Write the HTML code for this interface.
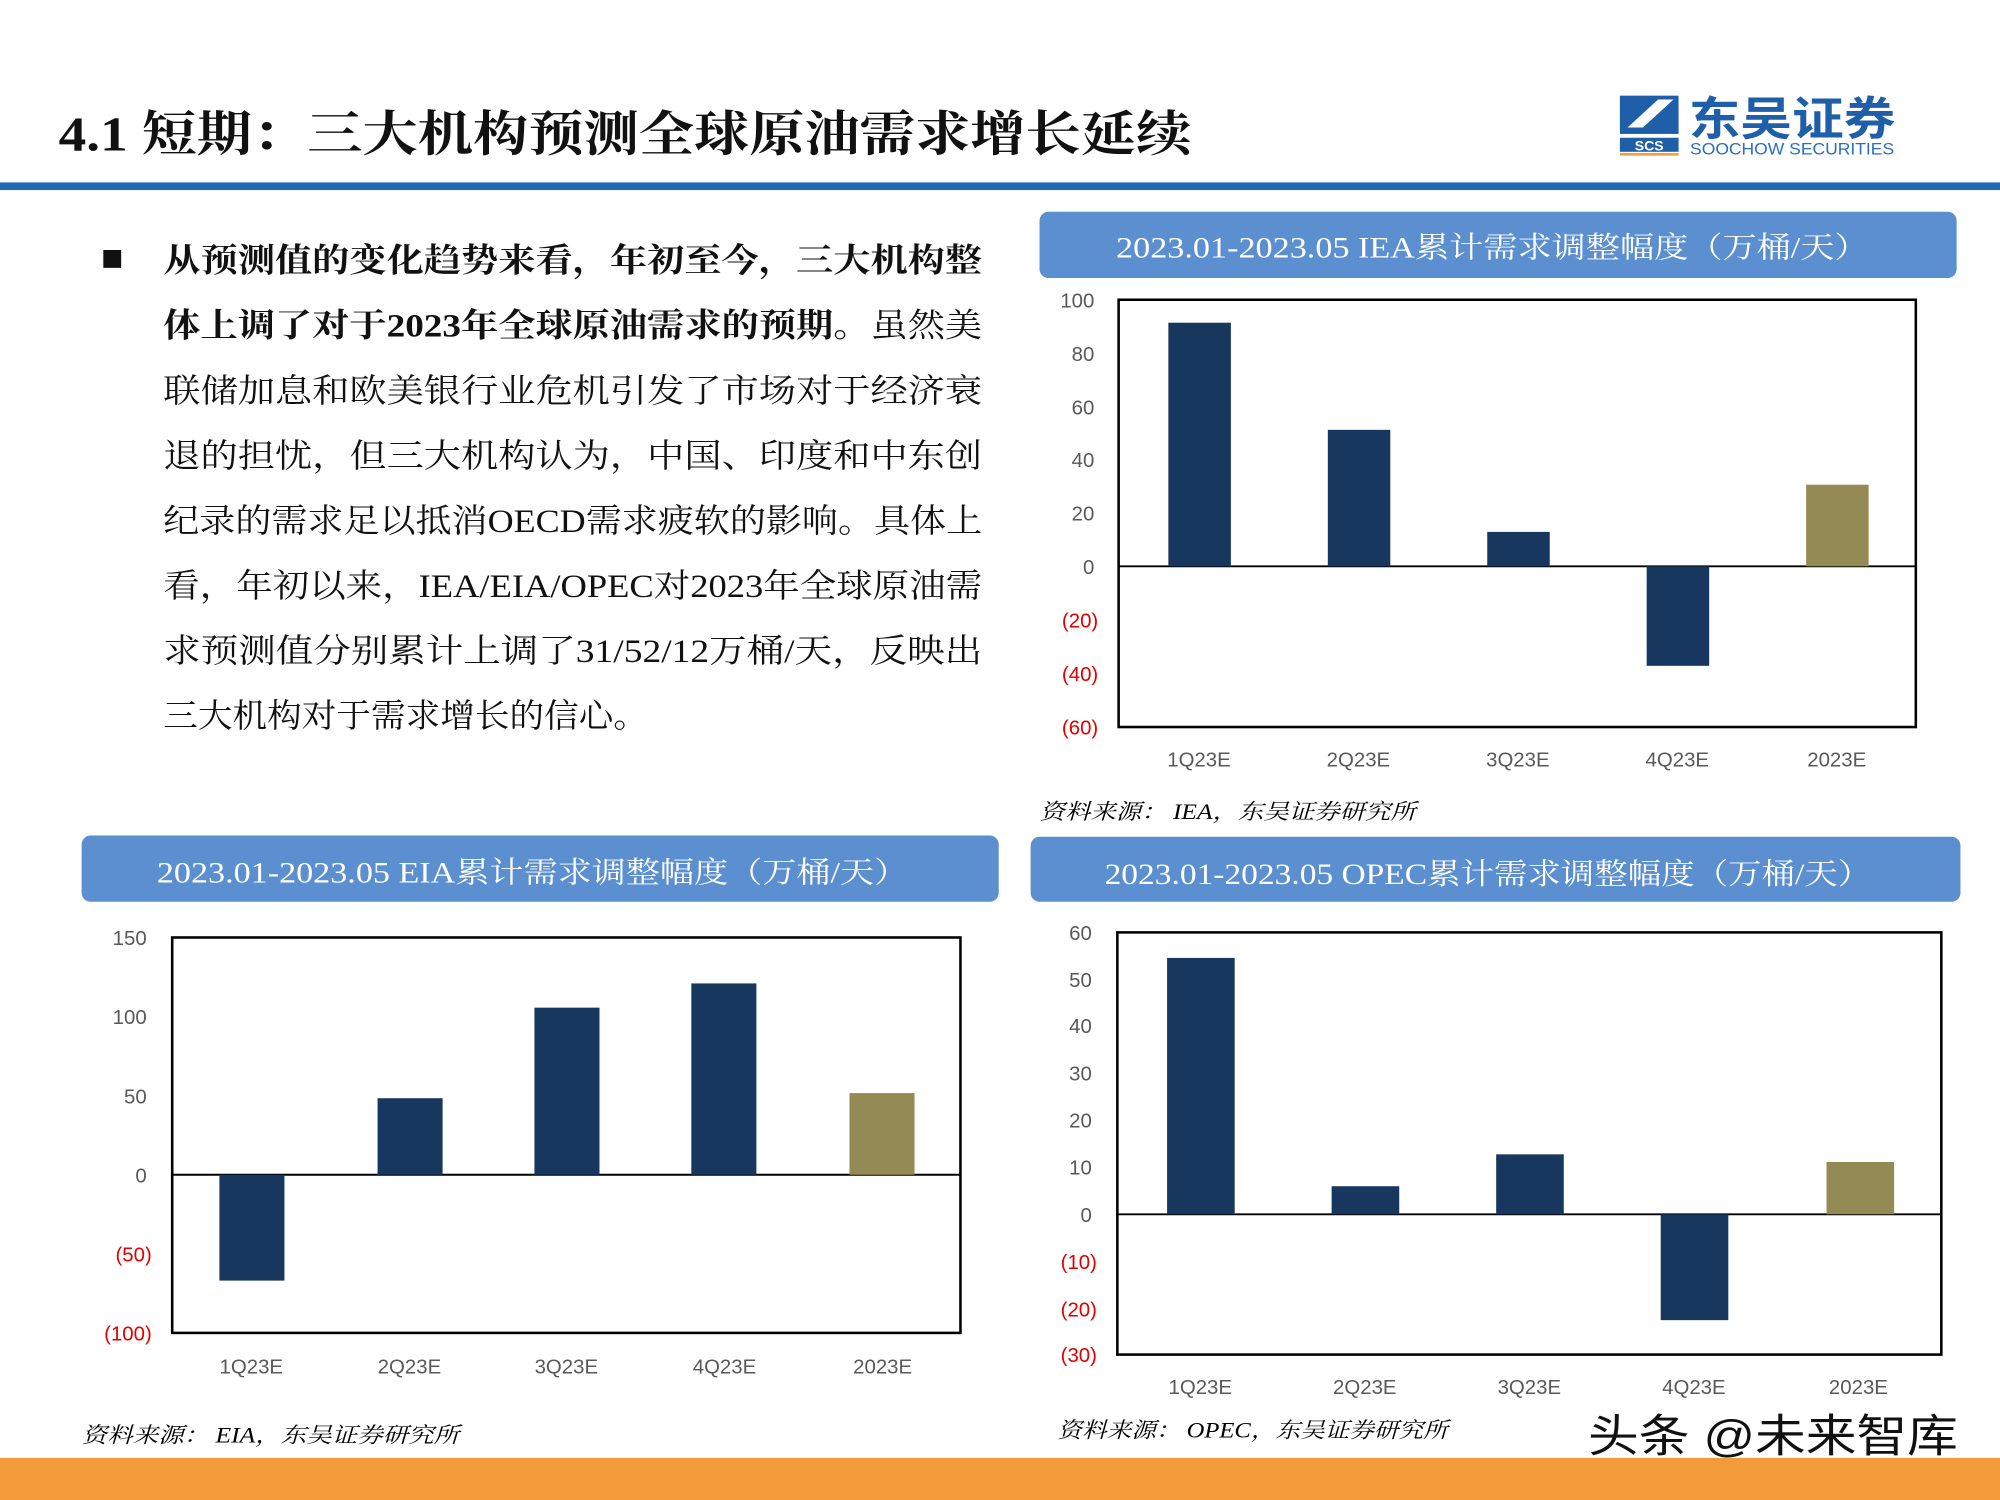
<!DOCTYPE html>
<html><head><meta charset="utf-8"><style>
html,body{margin:0;padding:0;background:#fff;width:2000px;height:1500px;overflow:hidden}
svg{display:block}
.cn{font-family:"Liberation Serif","Noto Serif CJK SC","Noto Sans CJK SC",serif}
.ax{font-family:"Liberation Sans","Noto Sans CJK SC",sans-serif;font-size:16px;fill:#595959}
.neg{fill:#e00000}
.hd{font-family:"Liberation Serif","Noto Serif CJK SC",serif;font-size:23px;fill:#fff}
.src{font-family:"Liberation Serif","Noto Serif CJK SC",serif;font-size:17px;font-style:italic;fill:#000}
</style></head><body>
<svg width="2000" height="1500" viewBox="0 0 1568 1176" xmlns="http://www.w3.org/2000/svg">
<rect width="1568" height="1176" fill="#fff"/>
<text x="46" y="118" class="cn" font-size="38" font-weight="bold" fill="#111" textLength="888" lengthAdjust="spacingAndGlyphs">4.1 短期：三大机构预测全球原油需求增长延续</text>
<rect x="0" y="143" width="1568" height="6" fill="#1f6bb5"/>
<g>
<rect x="1270" y="75" width="46" height="30" fill="#1f5faa"/>
<path d="M1276 100 L1300 78 L1312 78 L1288 100 Z" fill="#fff"/>
<rect x="1270" y="108" width="46" height="11" fill="#1f5faa"/>
<text x="1293" y="118" font-family="Liberation Sans,sans-serif" font-size="11" font-weight="bold" fill="#fff" text-anchor="middle">SCS</text>
<rect x="1270" y="120" width="46" height="2" fill="#f39a3a"/>
<text x="1324" y="106" font-family="Liberation Sans,'Noto Sans CJK SC',sans-serif" font-size="36" font-weight="bold" fill="#1f5faa" textLength="162" lengthAdjust="spacingAndGlyphs">东吴证券</text>
<text x="1325" y="121" font-family="Liberation Sans,sans-serif" font-size="13" fill="#2a6fc0" textLength="160" lengthAdjust="spacingAndGlyphs">SOOCHOW SECURITIES</text>
</g>
<rect x="81" y="196" width="14" height="14" fill="#111"/>
<g class="cn" font-size="26" fill="#111">
<text x="128" y="213" font-weight="bold" textLength="642" lengthAdjust="spacingAndGlyphs">从预测值的变化趋势来看，年初至今，三大机构整</text>
<text x="128" y="264" textLength="642" lengthAdjust="spacingAndGlyphs"><tspan font-weight="bold">体上调了对于2023年全球原油需求的预期。</tspan>虽然美</text>
<text x="128" y="315" textLength="642" lengthAdjust="spacingAndGlyphs">联储加息和欧美银行业危机引发了市场对于经济衰</text>
<text x="128" y="366" textLength="642" lengthAdjust="spacingAndGlyphs">退的担忧，但三大机构认为，中国、印度和中东创</text>
<text x="128" y="417" textLength="642" lengthAdjust="spacingAndGlyphs">纪录的需求足以抵消OECD需求疲软的影响。具体上</text>
<text x="128" y="468" textLength="642" lengthAdjust="spacingAndGlyphs">看，年初以来，IEA/EIA/OPEC对2023年全球原油需</text>
<text x="128" y="519" textLength="642" lengthAdjust="spacingAndGlyphs">求预测值分别累计上调了31/52/12万桶/天，反映出</text>
<text x="128" y="570" textLength="380" lengthAdjust="spacingAndGlyphs">三大机构对于需求增长的信心。</text>
</g>

<rect x="815" y="166" width="719" height="52" rx="7" fill="#5b8fcf"/>
<text x="875" y="202" class="hd" textLength="590" lengthAdjust="spacingAndGlyphs">2023.01-2023.05 IEA累计需求调整幅度（万桶/天）</text>
<rect x="877" y="235" width="625" height="335" fill="none" stroke="#000" stroke-width="2"/>
<line x1="877" y1="444" x2="1502" y2="444" stroke="#000" stroke-width="1.5"/>
<g fill="#17375e">
<rect x="916" y="253" width="49" height="191"/>
<rect x="1041" y="337" width="49" height="107"/>
<rect x="1166" y="417" width="49" height="27"/>
<rect x="1291" y="444" width="49" height="78"/>
</g>
<rect x="1416" y="380" width="49" height="64" fill="#948a54"/>
<g class="ax" text-anchor="end">
<text x="858" y="241">100</text><text x="858" y="283">80</text><text x="858" y="325">60</text>
<text x="858" y="366">40</text><text x="858" y="408">20</text><text x="858" y="450">0</text>
<text x="861" y="492" class="ax neg">(20)</text><text x="861" y="534" class="ax neg">(40)</text><text x="861" y="576" class="ax neg">(60)</text>
</g>
<g class="ax" text-anchor="middle">
<text x="940" y="601">1Q23E</text><text x="1065" y="601">2Q23E</text><text x="1190" y="601">3Q23E</text><text x="1315" y="601">4Q23E</text><text x="1440" y="601">2023E</text>
</g>
<text x="815" y="642" class="src" textLength="295" lengthAdjust="spacingAndGlyphs">资料来源：  IEA，东吴证券研究所</text>

<rect x="64" y="655" width="719" height="52" rx="7" fill="#5b8fcf"/>
<text x="123" y="692" class="hd" textLength="589" lengthAdjust="spacingAndGlyphs">2023.01-2023.05 EIA累计需求调整幅度（万桶/天）</text>
<rect x="135" y="735" width="618" height="310" fill="none" stroke="#000" stroke-width="2"/>
<line x1="135" y1="921" x2="753" y2="921" stroke="#000" stroke-width="1.5"/>
<g fill="#17375e">
<rect x="172" y="921" width="51" height="83"/>
<rect x="296" y="861" width="51" height="60"/>
<rect x="419" y="790" width="51" height="131"/>
<rect x="542" y="771" width="51" height="150"/>
</g>
<rect x="666" y="857" width="51" height="64" fill="#948a54"/>
<g class="ax" text-anchor="end">
<text x="115" y="741">150</text><text x="115" y="803">100</text><text x="115" y="865">50</text><text x="115" y="927">0</text>
<text x="119" y="989" class="ax neg">(50)</text><text x="119" y="1051" class="ax neg">(100)</text>
</g>
<g class="ax" text-anchor="middle">
<text x="197" y="1077">1Q23E</text><text x="321" y="1077">2Q23E</text><text x="444" y="1077">3Q23E</text><text x="568" y="1077">4Q23E</text><text x="692" y="1077">2023E</text>
</g>
<text x="64" y="1131" class="src" textLength="296" lengthAdjust="spacingAndGlyphs">资料来源：  EIA，东吴证券研究所</text>

<rect x="808" y="656" width="729" height="51" rx="7" fill="#5b8fcf"/>
<text x="866" y="693" class="hd" textLength="601" lengthAdjust="spacingAndGlyphs">2023.01-2023.05 OPEC累计需求调整幅度（万桶/天）</text>
<rect x="876" y="731" width="646" height="331" fill="none" stroke="#000" stroke-width="2"/>
<line x1="876" y1="952" x2="1522" y2="952" stroke="#000" stroke-width="1.5"/>
<g fill="#17375e">
<rect x="915" y="751" width="53" height="201"/>
<rect x="1044" y="930" width="53" height="22"/>
<rect x="1173" y="905" width="53" height="47"/>
<rect x="1302" y="952" width="53" height="83"/>
</g>
<rect x="1432" y="911" width="53" height="41" fill="#948a54"/>
<g class="ax" text-anchor="end">
<text x="856" y="737">60</text><text x="856" y="774">50</text><text x="856" y="810">40</text><text x="856" y="847">30</text>
<text x="856" y="884">20</text><text x="856" y="921">10</text><text x="856" y="958">0</text>
<text x="860" y="995" class="ax neg">(10)</text><text x="860" y="1032" class="ax neg">(20)</text><text x="860" y="1068" class="ax neg">(30)</text>
</g>
<g class="ax" text-anchor="middle">
<text x="941" y="1093">1Q23E</text><text x="1070" y="1093">2Q23E</text><text x="1199" y="1093">3Q23E</text><text x="1328" y="1093">4Q23E</text><text x="1457" y="1093">2023E</text>
</g>
<text x="829" y="1127" class="src" textLength="306" lengthAdjust="spacingAndGlyphs">资料来源：  OPEC，东吴证券研究所</text>

<rect x="0" y="1143" width="1568" height="33" fill="#f39a3a"/>
<text x="1245" y="1138" font-family="Liberation Sans,'Noto Sans CJK SC',sans-serif" font-size="35" fill="#111" textLength="290" lengthAdjust="spacingAndGlyphs">头条 @未来智库</text>
</svg>
</body></html>
